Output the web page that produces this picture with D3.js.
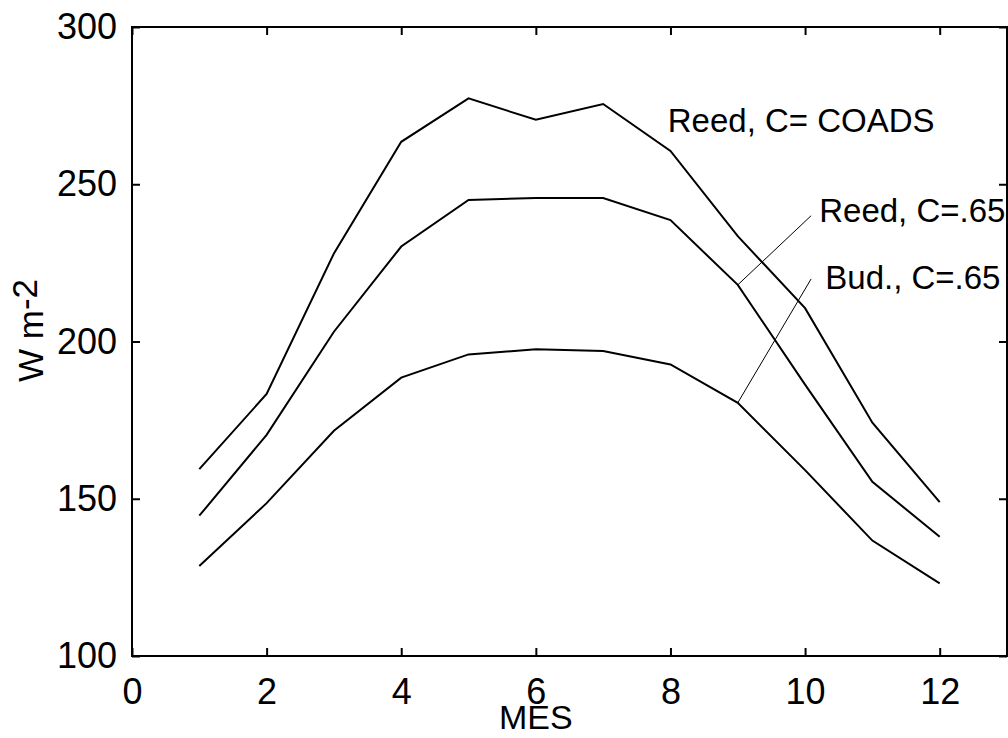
<!DOCTYPE html>
<html>
<head>
<meta charset="utf-8">
<script src="https://cdn.jsdelivr.net/npm/d3@7"></script>
<style>
  html, body { margin: 0; padding: 0; background: #fff; }
  svg { display: block; font-family: "Liberation Sans", Arial, Helvetica, sans-serif; }
</style>
</head>
<body>
<svg id="chart" width="1008" height="738"></svg>
<script>
const months = [1, 2, 3, 4, 5, 6, 7, 8, 9, 10, 11, 12];
const reedCoads = [159.4, 183.3, 228.0, 263.5, 277.3, 270.5, 275.5, 260.6, 233.5, 210.6, 174.2, 148.9];
const reed65    = [144.6, 170.3, 203.1, 230.2, 245.0, 245.6, 245.6, 238.6, 218.0, 186.3, 155.4, 137.9];
const bud65     = [128.6, 148.6, 171.6, 188.5, 195.9, 197.5, 197.0, 192.7, 180.5, 159.1, 136.7, 123.1];
const xTicks = [0, 2, 4, 6, 8, 10, 12];
const yTicks = [100, 150, 200, 250, 300];
const xLabel = "MES";
const yLabel = "W m";
const yLabelSup = "-2";

// annotations: text, text position (data), leader line from (month, series value) to point (data)
const annotations = [
  { text: "Reed, C= COADS", tx: 7.96, ty: 266.6, leader: null },
  { text: "Reed, C=.65", tx: 10.21, ty: 237.9, leader: { x0: 9, y0: reed65[8], x1: 10.09, y1: 240.0 } },
  { text: "Bud., C=.65", tx: 10.30, ty: 216.6, leader: { x0: 9, y0: bud65[8], x1: 10.09, y1: 219.9 } }
];

const svg = d3.select("#chart");
const pLeft = 132, pRight = 1007, pTop = 27, pBottom = 656;

const x = d3.scaleLinear().domain([0, 13]).range([pLeft, pRight]);
const y = d3.scaleLinear().domain([100, 300]).range([pBottom, pTop]);

const tickFont = 36;

// box
svg.append("rect")
  .attr("x", pLeft).attr("y", pTop)
  .attr("width", pRight - pLeft).attr("height", pBottom - pTop)
  .attr("fill", "none").attr("stroke", "#000").attr("stroke-width", 2);

// axes with inward ticks
const bottomAxis = d3.axisBottom(x).tickValues(xTicks).tickSize(-8).tickPadding(22).tickFormat(d3.format("d"));
const topAxis = d3.axisTop(x).tickValues(xTicks).tickSize(-8).tickFormat("");
const leftAxis = d3.axisLeft(y).tickValues(yTicks).tickSize(-8).tickPadding(15).tickFormat(d3.format("d"));
const rightAxis = d3.axisRight(y).tickValues(yTicks).tickSize(-8).tickFormat("");

function styleAxis(g) {
  g.select(".domain").remove();
  g.selectAll(".tick line").attr("stroke", "#000").attr("stroke-width", 2);
  g.selectAll(".tick text").attr("fill", "#000").style("font-size", tickFont + "px")
    .style("font-family", "'Liberation Sans', Arial, sans-serif");
}

svg.append("g").attr("transform", `translate(0,${pBottom})`).call(bottomAxis).call(styleAxis);
svg.append("g").attr("transform", `translate(0,${pTop})`).call(topAxis).call(styleAxis);
svg.append("g").attr("transform", `translate(${pLeft},0)`).call(leftAxis).call(styleAxis);
svg.append("g").attr("transform", `translate(${pRight},0)`).call(rightAxis).call(styleAxis);

// lines
const line = d3.line().x((d, i) => x(months[i])).y(d => y(d));
[reedCoads, reed65, bud65].forEach(series => {
  svg.append("path")
    .datum(series)
    .attr("d", line)
    .attr("fill", "none")
    .attr("stroke", "#000")
    .attr("stroke-width", 2)
    .attr("stroke-linejoin", "miter");
});

// annotations
annotations.forEach(a => {
  if (a.leader) {
    svg.append("line")
      .attr("x1", x(a.leader.x0)).attr("y1", y(a.leader.y0))
      .attr("x2", x(a.leader.x1)).attr("y2", y(a.leader.y1))
      .attr("stroke", "#000").attr("stroke-width", 1);
  }
  svg.append("text")
    .attr("x", x(a.tx)).attr("y", y(a.ty))
    .style("font-size", "33px")
    .attr("fill", "#000")
    .text(a.text);
});

// x label
svg.append("text")
  .attr("x", x(6)).attr("y", 729)
  .attr("text-anchor", "middle")
  .style("font-size", "34px")
  .text(xLabel);

// y label
const yl = svg.append("text")
  .attr("transform", "translate(43,382) rotate(-90)")
  .attr("text-anchor", "start")
  .style("font-size", "35px");
yl.append("tspan").text(yLabel);
yl.append("tspan").attr("dy", -6).text(yLabelSup);
</script>
</body>
</html>
